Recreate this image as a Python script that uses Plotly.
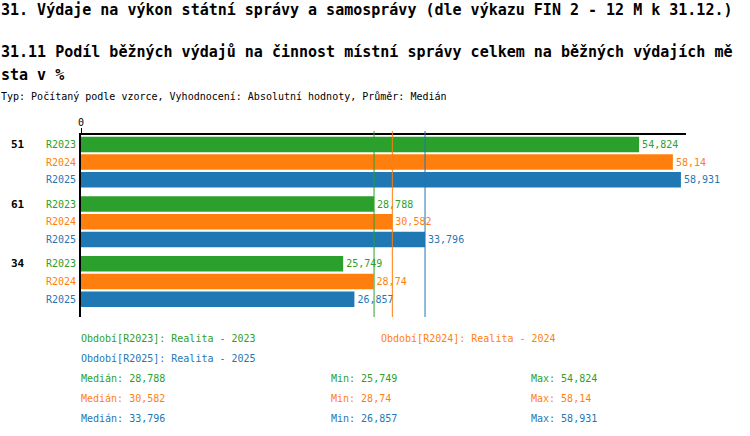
import plotly.graph_objects as go
import numpy as np

groups = ["51", "61", "34"]
series = ["R2023", "R2024", "R2025"]
values_r2023 = [54.824, 28.788, 25.749]
values_r2024 = [58.14, 30.582, 28.74]
values_r2025 = [58.931, 33.796, 26.857]
period_names = ["Realita - 2023", "Realita - 2024", "Realita - 2025"]
colors = ["#2ca02c", "#ff7f0e", "#1f77b4"]

title1 = "31. Výdaje na výkon státní správy a samosprávy (dle výkazu FIN 2 - 12 M k 31.12.)"
title2a = "31.11 Podíl běžných výdajů na činnost místní správy celkem na běžných výdajích mě"
title2b = "sta v %"
subtitle = "Typ: Počítaný podle vzorce, Vyhodnocení: Absolutní hodnoty, Průměr: Medián"

MONO = "DejaVu Sans Mono"
W_FIG, H_FIG = 750, 436
L, R, T, B = 81, 686, 135, 317
PW, PH = R - L, B - T
BARGAP = 0.11
Y_RANGE = [2.595, -0.454]


def px_x(px):
    return (px - L) / PW


def px_y(py):
    return (B - py) / PH


def fmt(v):
    return f"{v:g}".replace(".", ",")


all_values = [values_r2023, values_r2024, values_r2025]

fig = go.Figure()
for name, vals, col in zip(series, all_values, colors):
    fig.add_trace(go.Bar(
        y=groups, x=vals, orientation="h", name=name, showlegend=False,
        marker=dict(color=col, line_width=0),
        text=[fmt(v) for v in vals], textposition="outside",
        textfont=dict(color=col, size=10, family=MONO),
        cliponaxis=False, constraintext="none", hoverinfo="skip",
    ))

# median lines
for vals, col in zip(all_values, colors):
    med = float(np.median(vals))
    fig.add_shape(type="line", xref="x", yref="paper", x0=med, x1=med,
                  y0=0, y1=1 + 4 / PH, line=dict(color=col, width=1))

# tick mark at zero, above the top axis line
fig.add_shape(type="line", xref="x", yref="paper", x0=0, x1=0,
              y0=1, y1=1 + 7 / PH, line=dict(color="black", width=2))

ann = []


def add_text(text, px, py, size=10, color="black", bold=False):
    t = f"<b>{text}</b>" if bold else text
    ann.append(dict(text=t, xref="paper", yref="paper", x=px_x(px - 1), y=px_y(py),
                    xanchor="left", yanchor="middle", showarrow=False,
                    font=dict(family=MONO, size=size, color=color)))


add_text(title1, 0, 9.5, size=15, bold=True)
add_text(title2a, 0, 52, size=15, bold=True)
add_text(title2b, 0, 74.5, size=15, bold=True)
add_text(subtitle, 0, 96, size=10)

# group / series labels (category index positions)
slot_px = PH / (Y_RANGE[0] - Y_RANGE[1])
shift = slot_px * (1 - BARGAP) / 3
for gi, g in enumerate(groups):
    ann.append(dict(text=f"<b>{g}</b>", xref="paper", yref="y", x=px_x(9), y=gi,
                    xanchor="left", yanchor="middle", yshift=shift, showarrow=False,
                    font=dict(family=MONO, size=11, color="black")))
    for i, (s, col) in enumerate(zip(series, colors)):
        ann.append(dict(text=s, xref="x", yref="y", x=0, y=gi, xanchor="right",
                        yanchor="middle", xshift=-3, yshift=shift * (1 - i),
                        showarrow=False, font=dict(family=MONO, size=10, color=col)))

# legend / stats
add_text(f"Období[{series[0]}]: {period_names[0]}", 80, 338, color=colors[0])
add_text(f"Období[{series[1]}]: {period_names[1]}", 380, 338, color=colors[1])
add_text(f"Období[{series[2]}]: {period_names[2]}", 80, 358, color=colors[2])
for i, (vals, col) in enumerate(zip(all_values, colors)):
    py = 378 + 20 * i
    add_text(f"Medián: {fmt(float(np.median(vals)))}", 80, py, color=col)
    add_text(f"Min: {fmt(min(vals))}", 330, py, color=col)
    add_text(f"Max: {fmt(max(vals))}", 530, py, color=col)

fig.update_layout(
    width=W_FIG, height=H_FIG,
    margin=dict(l=L, r=W_FIG - R, t=T, b=H_FIG - B, pad=0),
    paper_bgcolor="white", plot_bgcolor="white",
    barmode="group", bargap=BARGAP, bargroupgap=0.124,
    annotations=ann,
    xaxis=dict(side="top", range=[0, 59.43], tickvals=[0], ticktext=["0"],
               showgrid=False, zeroline=False, showline=True, linecolor="black",
               linewidth=1.5, ticks="", ticklabelstandoff=3,
               tickfont=dict(family=MONO, size=10, color="black")),
    yaxis=dict(type="category", categoryorder="array", categoryarray=groups,
               range=Y_RANGE, showticklabels=False, showgrid=False,
               zeroline=False, showline=True, linecolor="black", linewidth=2, ticks=""),
)

fig.write_html("out.html", config={"displayModeBar": False},
               post_script="document.body.style.margin='0px';")
